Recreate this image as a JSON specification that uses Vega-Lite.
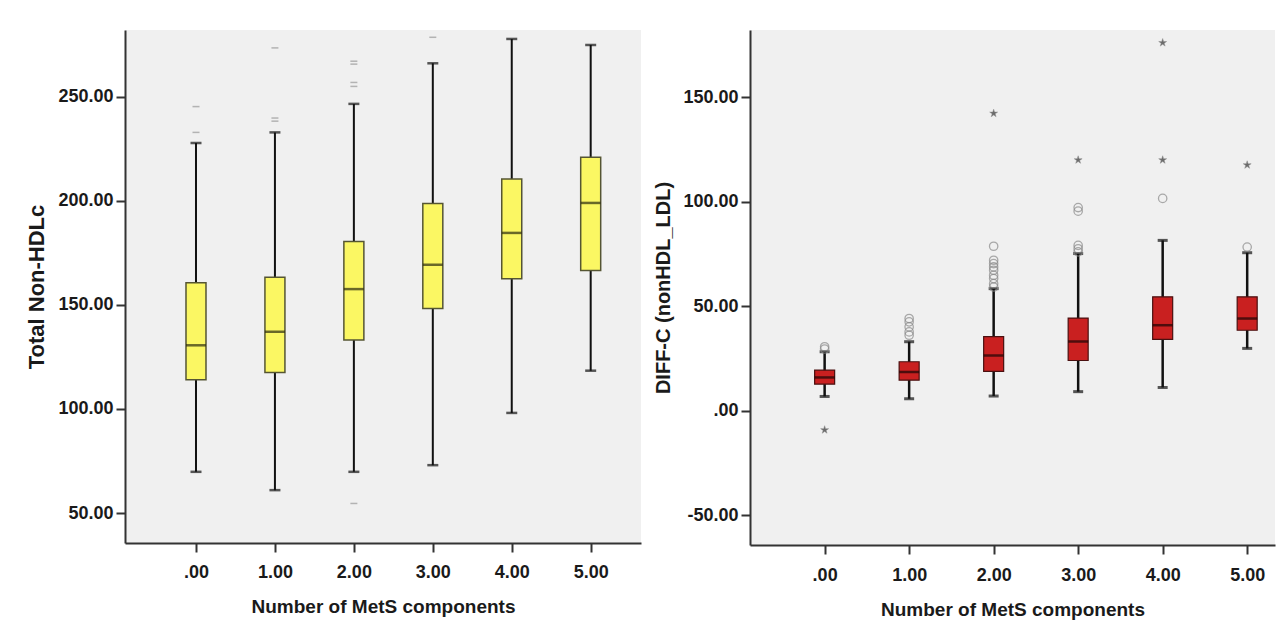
{
  "$schema": "https://vega.github.io/schema/vega-lite/v6.json",
  "background": "white",
  "padding": {"top": 30, "left": 25, "right": 5, "bottom": 5},
  "spacing": 12,
  "datasets": {
    "leftBox": [
      {"group": 0, "lo": 69.8, "q1": 114.1, "median": 130.6, "q3": 160.6, "hi": 227.8},
      {"group": 1, "lo": 61.0, "q1": 117.5, "median": 137.1, "q3": 163.3, "hi": 232.9},
      {"group": 2, "lo": 69.8, "q1": 133.1, "median": 157.6, "q3": 180.5, "hi": 246.6},
      {"group": 3, "lo": 73.0, "q1": 148.3, "median": 169.3, "q3": 198.7, "hi": 266.1},
      {"group": 4, "lo": 98.1, "q1": 162.6, "median": 184.6, "q3": 210.5, "hi": 277.8},
      {"group": 5, "lo": 118.4, "q1": 166.5, "median": 199.0, "q3": 220.9, "hi": 274.9}
    ],
    "leftOut": [
      {"group": 0, "value": 232.9},
      {"group": 0, "value": 245.3},
      {"group": 1, "value": 238.3},
      {"group": 1, "value": 239.8},
      {"group": 1, "value": 273.5},
      {"group": 2, "value": 54.6},
      {"group": 2, "value": 255.0},
      {"group": 2, "value": 256.9},
      {"group": 2, "value": 265.7},
      {"group": 2, "value": 267.1},
      {"group": 3, "value": 278.6}
    ],
    "rightBox": [
      {"group": 0, "lo": 6.8, "q1": 12.7, "median": 15.9, "q3": 19.4, "hi": 28.2},
      {"group": 1, "lo": 5.7, "q1": 14.6, "median": 18.5, "q3": 23.4, "hi": 33.0},
      {"group": 2, "lo": 7.0, "q1": 18.8, "median": 26.4, "q3": 35.4, "hi": 58.4},
      {"group": 3, "lo": 9.1, "q1": 24.0, "median": 33.1, "q3": 44.3, "hi": 75.2},
      {"group": 4, "lo": 11.1, "q1": 34.1, "median": 40.9, "q3": 54.5, "hi": 81.5},
      {"group": 5, "lo": 29.8, "q1": 38.5, "median": 44.1, "q3": 54.5, "hi": 75.6}
    ],
    "rightCircle": [
      {"group": 0, "value": 29.5},
      {"group": 0, "value": 30.6},
      {"group": 1, "value": 36.1},
      {"group": 1, "value": 37.7},
      {"group": 1, "value": 40.1},
      {"group": 1, "value": 42.5},
      {"group": 1, "value": 44.1},
      {"group": 2, "value": 59.2},
      {"group": 2, "value": 60.8},
      {"group": 2, "value": 63.2},
      {"group": 2, "value": 64.8},
      {"group": 2, "value": 67.2},
      {"group": 2, "value": 68.8},
      {"group": 2, "value": 70.4},
      {"group": 2, "value": 72.0},
      {"group": 2, "value": 78.7},
      {"group": 3, "value": 76.0},
      {"group": 3, "value": 77.5},
      {"group": 3, "value": 79.1},
      {"group": 3, "value": 95.5},
      {"group": 3, "value": 97.2},
      {"group": 4, "value": 101.6},
      {"group": 5, "value": 78.3}
    ],
    "rightStar": [
      {"group": 0, "value": -9.2},
      {"group": 2, "value": 142.3},
      {"group": 3, "value": 120.0},
      {"group": 4, "value": 120.0},
      {"group": 4, "value": 176.1},
      {"group": 5, "value": 117.6}
    ]
  },
  "config": {
    "view": {"fill": "#f0f0f0", "stroke": null},
    "axis": {
      "grid": false,
      "domainColor": "#333333",
      "domainWidth": 2,
      "tickColor": "#333333",
      "tickWidth": 2,
      "tickSize": 9,
      "labelFont": "Liberation Sans",
      "labelFontWeight": "bold",
      "labelFontSize": 18,
      "labelColor": "#1a1a1a",
      "labelPadding": 3,
      "titleFont": "Liberation Sans",
      "titleFontWeight": "bold",
      "titleFontSize": 19,
      "titleColor": "#1a1a1a"
    }
  },
  "hconcat": [
    {
      "width": 516,
      "height": 513,
      "encoding": {
        "x": {
          "field": "group",
          "type": "quantitative",
          "scale": {"domain": [-0.836, 5.574], "nice": false, "zero": false},
          "axis": {
            "values": [0, 1, 2, 3, 4, 5],
            "labelExpr": "datum.value == 0 ? '.00' : format(datum.value, '.2f')",
            "title": "Number of MetS components",
            "labelPadding": 11,
            "titlePadding": 16
          }
        }
      },
      "layer": [
        {
          "data": {"name": "leftBox"},
          "mark": {"type": "rule", "color": "#111111", "strokeWidth": 2},
          "encoding": {
            "y": {
              "field": "lo",
              "type": "quantitative",
              "scale": {"domain": [35.6, 282.1], "nice": false, "zero": false},
              "axis": {
                "values": [50, 100, 150, 200, 250],
                "labelExpr": "format(datum.value, '.2f')",
                "title": "Total Non-HDLc",
                "titleFontSize": 22,
                "titlePadding": 9
              }
            },
            "y2": {"field": "hi"}
          }
        },
        {
          "data": {"name": "leftBox"},
          "mark": {"type": "tick", "orient": "horizontal", "color": "#111111", "size": 11, "thickness": 2.5},
          "encoding": {"y": {"field": "lo", "type": "quantitative"}}
        },
        {
          "data": {"name": "leftBox"},
          "mark": {"type": "tick", "orient": "horizontal", "color": "#111111", "size": 11, "thickness": 2.5},
          "encoding": {"y": {"field": "hi", "type": "quantitative"}}
        },
        {
          "data": {"name": "leftBox"},
          "mark": {"type": "bar", "size": 20, "fill": "#fbf763", "stroke": "#555533", "strokeWidth": 1.5},
          "encoding": {
            "y": {"field": "q1", "type": "quantitative"},
            "y2": {"field": "q3"}
          }
        },
        {
          "data": {"name": "leftBox"},
          "mark": {"type": "tick", "orient": "horizontal", "color": "#2b2b10", "size": 20, "thickness": 2.5},
          "encoding": {"y": {"field": "median", "type": "quantitative"}}
        },
        {
          "data": {"name": "leftOut"},
          "mark": {"type": "tick", "orient": "horizontal", "color": "#999999", "size": 7, "thickness": 1.5},
          "encoding": {"y": {"field": "value", "type": "quantitative"}}
        }
      ]
    },
    {
      "width": 525,
      "height": 515,
      "encoding": {
        "x": {
          "field": "group",
          "type": "quantitative",
          "scale": {"domain": [-0.824, 5.27], "nice": false, "zero": false},
          "axis": {
            "values": [0, 1, 2, 3, 4, 5],
            "labelExpr": "datum.value == 0 ? '.00' : format(datum.value, '.2f')",
            "title": "Number of MetS components",
            "labelPadding": 12,
            "titlePadding": 16
          }
        }
      },
      "layer": [
        {
          "data": {"name": "rightBox"},
          "mark": {"type": "rule", "color": "#111111", "strokeWidth": 2.5},
          "encoding": {
            "y": {
              "field": "lo",
              "type": "quantitative",
              "scale": {"domain": [-64.3, 182.2], "nice": false, "zero": false},
              "axis": {
                "values": [-50, 0, 50, 100, 150],
                "labelExpr": "datum.value == 0 ? '.00' : replace(format(datum.value, '.2f'), '\u2212', '-')",
                "title": "DIFF-C (nonHDL_LDL)",
                "titleFontSize": 20,
                "titlePadding": 9
              }
            },
            "y2": {"field": "hi"}
          }
        },
        {
          "data": {"name": "rightBox"},
          "mark": {"type": "tick", "orient": "horizontal", "color": "#111111", "size": 10, "thickness": 3},
          "encoding": {"y": {"field": "lo", "type": "quantitative"}}
        },
        {
          "data": {"name": "rightBox"},
          "mark": {"type": "tick", "orient": "horizontal", "color": "#111111", "size": 10, "thickness": 3},
          "encoding": {"y": {"field": "hi", "type": "quantitative"}}
        },
        {
          "data": {"name": "rightBox"},
          "mark": {"type": "bar", "size": 20, "fill": "#c92020", "stroke": "#4a1010", "strokeWidth": 1.2},
          "encoding": {
            "y": {"field": "q1", "type": "quantitative"},
            "y2": {"field": "q3"}
          }
        },
        {
          "data": {"name": "rightBox"},
          "mark": {"type": "tick", "orient": "horizontal", "color": "#1a0505", "size": 20, "thickness": 2.5},
          "encoding": {"y": {"field": "median", "type": "quantitative"}}
        },
        {
          "data": {"name": "rightCircle"},
          "mark": {"type": "point", "shape": "circle", "filled": false, "size": 70, "stroke": "#8a8a8a", "strokeWidth": 1.3},
          "encoding": {"y": {"field": "value", "type": "quantitative"}}
        },
        {
          "data": {"name": "rightStar"},
          "mark": {
            "type": "point",
            "shape": "M0,-1L0.22,-0.3L0.95,-0.3L0.36,0.12L0.58,0.8L0,0.38L-0.58,0.8L-0.36,0.12L-0.95,-0.3L-0.22,-0.3Z",
            "filled": true,
            "size": 70,
            "fill": "#333333",
            "stroke": "#666666",
            "strokeWidth": 0.5
          },
          "encoding": {"y": {"field": "value", "type": "quantitative"}}
        }
      ]
    }
  ]
}
